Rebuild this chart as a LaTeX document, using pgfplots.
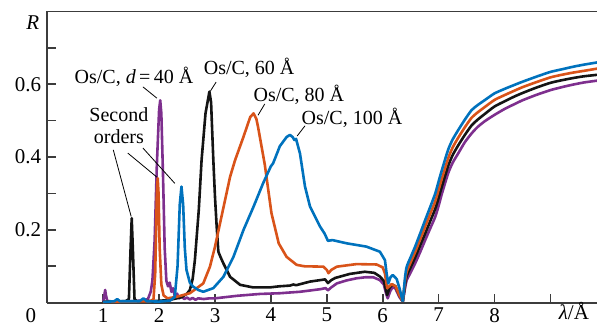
\documentclass[border=0pt]{standalone}
\usepackage{fontspec}
\setmainfont{Liberation Serif}
\usepackage{pgfplots}
\pgfplotsset{compat=1.18}
\definecolor{cblue}{RGB}{0,114,189}
\definecolor{corange}{RGB}{217,83,25}
\definecolor{cpurple}{RGB}{126,47,142}
\definecolor{cblack}{RGB}{20,20,20}
\definecolor{caxis}{RGB}{60,60,60}
\begin{document}
\begin{tikzpicture}
\useasboundingbox (-23.65pt,-10.65pt) rectangle (274.85pt,151.35pt);
\begin{axis}[
  at={(0,0)}, anchor=south west,
  width=274.85pt, height=145.6pt, scale only axis,
  xmin=0, xmax=9.834, ymin=0, ymax=0.8,
  axis x line=box, axis y line=left,
  axis line style={-, caxis, line width=0.9pt},
  xtick pos=left, ytick pos=left,
  tick align=inside,
  major tick length=4.3pt,
  tick style={caxis, line width=0.8pt},
  xtick={1,2,3,4,5,6,7,8,9},
  xticklabels={1,2,3,4,5,6,7,8,{}},
  ytick={0.1,0.2,0.3,0.4,0.5,0.6,0.7},
  yticklabels={{},0.2,{},0.4,{},0.6,{}},
  /pgf/number format/assume math mode=true,
  ticklabel style={font=\rmfamily\fontsize{10.5}{12}\selectfont},
  xticklabel style={yshift=0.8pt},
  yticklabel style={xshift=0.5pt},
  clip=false,
  every axis plot/.append style={line width=1.3pt, line join=round},
]
% 40 A (purple)
\addplot[cpurple] coordinates {
(1.0,0.004)(1.02,0.02)(1.035,0.035)(1.05,0.02)(1.07,0.006)(1.1,0.004)(1.3,0.003)(1.5,0.004)(1.7,0.006)(1.8,0.01)
(1.85,0.03)(1.88,0.06)(1.92,0.17)(1.96,0.38)(2.0,0.53)(2.02,0.556)(2.04,0.52)(2.07,0.35)(2.1,0.15)(2.13,0.06)
(2.16,0.045)(2.19,0.055)(2.22,0.03)(2.25,0.04)(2.28,0.018)(2.32,0.025)(2.36,0.012)(2.4,0.018)(2.45,0.01)(2.5,0.014)
(2.55,0.009)(2.6,0.013)(2.65,0.008)(2.7,0.012)(2.8,0.01)(2.9,0.012)(3.0,0.012)(3.4,0.019)(3.8,0.024)(4.16,0.026)
(4.52,0.030)(4.88,0.037)(4.98,0.040)(5.02,0.034)(5.08,0.042)(5.18,0.053)(5.35,0.061)(5.53,0.067)(5.7,0.070)(5.83,0.070)
(5.95,0.062)(6.02,0.05)(6.06,0.025)(6.09,0.012)(6.13,0.03)(6.18,0.044)(6.23,0.038)(6.3,0.015)(6.36,0.003)};
\addplot[cpurple, smooth, tension=0.4] coordinates {
(6.36,0.003)(6.40,0.04)(6.43,0.062)(6.5,0.083)(6.58,0.108)(6.67,0.139)(6.76,0.172)(6.85,0.204)(6.94,0.236)(7.0,0.266)
(7.06,0.30)(7.17,0.355)(7.25,0.384)(7.35,0.41)(7.47,0.441)(7.59,0.465)(7.7,0.483)(7.83,0.499)(8.0,0.516)(8.19,0.533)
(8.35,0.545)(8.5,0.556)(8.75,0.571)(9.0,0.584)(9.2,0.592)(9.4,0.599)(9.6,0.605)(9.834,0.61)};
% 60 A (black)
\addplot[cblack] coordinates {
(1.0,0.003)(1.4,0.004)(1.46,0.01)(1.49,0.15)(1.51,0.232)(1.53,0.15)(1.56,0.01)(1.6,0.004)(2.0,0.005)(2.2,0.008)
(2.4,0.015)(2.5,0.025)(2.55,0.035)(2.6,0.065)(2.64,0.117)(2.71,0.255)(2.76,0.392)(2.83,0.52)(2.90,0.58)(2.93,0.55)
(2.97,0.392)(3.0,0.29)(3.03,0.209)(3.06,0.14)(3.1,0.125)(3.15,0.108)(3.27,0.071)(3.45,0.049)(3.68,0.042)(3.98,0.042)
(4.15,0.045)(4.34,0.047)(4.4,0.05)(4.45,0.048)(4.7,0.058)(4.97,0.064)(5.02,0.054)(5.08,0.062)(5.15,0.068)(5.41,0.079)
(5.68,0.085)(5.85,0.082)(5.95,0.072)(6.02,0.06)(6.05,0.04)(6.08,0.021)(6.12,0.04)(6.17,0.05)(6.23,0.045)(6.3,0.02)(6.36,0.003)};
\addplot[cblack, smooth, tension=0.4] coordinates {
(6.36,0.003)(6.40,0.05)(6.43,0.074)(6.5,0.097)(6.58,0.124)(6.67,0.157)(6.76,0.19)(6.85,0.224)(6.94,0.258)(7.0,0.288)
(7.06,0.32)(7.17,0.375)(7.25,0.405)(7.35,0.432)(7.47,0.461)(7.59,0.487)(7.7,0.503)(7.83,0.519)(8.0,0.539)(8.19,0.554)
(8.35,0.566)(8.5,0.576)(8.75,0.591)(9.0,0.604)(9.2,0.611)(9.4,0.617)(9.6,0.622)(9.834,0.626)};
% 80 A (orange)
\addplot[corange] coordinates {
(1.0,0.002)(1.85,0.004)(1.9,0.01)(1.93,0.08)(1.96,0.30)(1.975,0.342)(1.99,0.30)(2.01,0.15)(2.04,0.05)(2.08,0.02)
(2.15,0.012)(2.31,0.016)(2.55,0.026)(2.79,0.053)(2.91,0.099)(3.0,0.154)(3.09,0.218)(3.18,0.282)(3.27,0.346)(3.36,0.392)
(3.51,0.456)(3.63,0.51)(3.69,0.52)(3.74,0.505)(3.77,0.483)(3.89,0.38)(4.01,0.246)(4.14,0.163)(4.28,0.126)(4.46,0.104)
(4.6,0.10)(4.94,0.099)(5.0,0.09)(5.03,0.081)(5.08,0.09)(5.18,0.099)(5.53,0.106)(5.89,0.105)(6.0,0.097)(6.04,0.08)
(6.08,0.04)(6.12,0.045)(6.16,0.051)(6.23,0.045)(6.3,0.02)(6.36,0.003)};
\addplot[corange, smooth, tension=0.4] coordinates {
(6.36,0.003)(6.40,0.06)(6.43,0.085)(6.5,0.111)(6.58,0.139)(6.67,0.174)(6.76,0.209)(6.85,0.244)(6.94,0.279)(7.0,0.31)
(7.06,0.342)(7.17,0.396)(7.25,0.426)(7.35,0.453)(7.47,0.482)(7.59,0.508)(7.7,0.523)(7.83,0.538)(8.0,0.557)(8.19,0.571)
(8.35,0.582)(8.5,0.592)(8.75,0.606)(9.0,0.619)(9.2,0.626)(9.4,0.632)(9.6,0.637)(9.834,0.643)};
% 100 A (blue)
\addplot[cblue] coordinates {
(1.0,0.002)(1.2,0.004)(1.25,0.01)(1.3,0.004)(1.65,0.004)(1.72,0.012)(1.78,0.004)(2.0,0.003)(2.2,0.006)(2.28,0.016)
(2.33,0.1)(2.37,0.27)(2.40,0.319)(2.43,0.27)(2.46,0.15)(2.49,0.09)(2.55,0.055)(2.61,0.044)(2.7,0.035)(2.79,0.03)
(2.97,0.04)(3.15,0.071)(3.33,0.126)(3.51,0.2)(3.69,0.264)(3.86,0.328)(4.0,0.375)(4.04,0.383)(4.16,0.43)(4.28,0.455)
(4.34,0.461)(4.39,0.455)(4.42,0.447)(4.45,0.45)(4.52,0.41)(4.61,0.319)(4.7,0.264)(4.88,0.209)(4.96,0.19)(5.02,0.17)
(5.1,0.172)(5.36,0.163)(5.71,0.154)(5.95,0.14)(6.04,0.117)(6.07,0.08)(6.1,0.053)(6.14,0.07)(6.18,0.076)(6.25,0.065)
(6.3,0.04)(6.36,0.003)};
\addplot[cblue, smooth, tension=0.4] coordinates {
(6.36,0.003)(6.40,0.07)(6.43,0.099)(6.5,0.125)(6.58,0.154)(6.67,0.19)(6.76,0.227)(6.85,0.263)(6.94,0.30)(7.0,0.333)
(7.06,0.365)(7.17,0.42)(7.25,0.448)(7.35,0.474)(7.47,0.503)(7.59,0.529)(7.7,0.543)(7.83,0.557)(8.0,0.575)(8.19,0.588)
(8.35,0.598)(8.5,0.607)(8.75,0.621)(9.0,0.634)(9.2,0.641)(9.4,0.648)(9.6,0.654)(9.834,0.66)};
% annotations
\draw[line width=0.4pt] (axis cs:1.71,0.593) -- (axis cs:1.96,0.562);
\draw[line width=0.4pt] (axis cs:3.02,0.606) -- (axis cs:2.92,0.582);
\draw[line width=0.4pt] (axis cs:3.89,0.546) -- (axis cs:3.77,0.515);
\draw[line width=0.4pt] (axis cs:4.61,0.486) -- (axis cs:4.47,0.458);
\draw[line width=0.4pt] (axis cs:1.18,0.42) -- (axis cs:1.50,0.237);
\draw[line width=0.4pt] (axis cs:1.44,0.411) -- (axis cs:1.96,0.345);
\draw[line width=0.4pt] (axis cs:1.71,0.425) -- (axis cs:2.28,0.328);
\begingroup
\fontsize{9.6}{11}\selectfont
\node at (axis cs:1.55,0.62) {Os/C, \textit{d}\,=\,40 Å};
\node at (axis cs:3.61,0.645) {Os/C, 60 Å};
\node at (axis cs:4.5,0.57) {Os/C, 80 Å};
\node at (axis cs:5.45,0.507) {Os/C, 100 Å};
\node[align=center, inner sep=0pt] at (axis cs:1.28,0.485) {Second\\[-1pt]orders};
\endgroup
\node[anchor=north east, inner sep=0.333em, font=\fontsize{10.5}{12}\selectfont] at (rel axis cs:0,0) [xshift=-2pt, yshift=0.8pt] {0};
\node[font=\fontsize{10.5}{12}\selectfont] at (axis cs:-0.26,0.77) {\textit{R}};
\node[anchor=base, inner sep=0pt, font=\fontsize{10.5}{12}\selectfont] at (axis cs:9.42,0) [yshift=-8.2pt] {\textit{λ}/Å};
\end{axis}
\end{tikzpicture}
\end{document}
